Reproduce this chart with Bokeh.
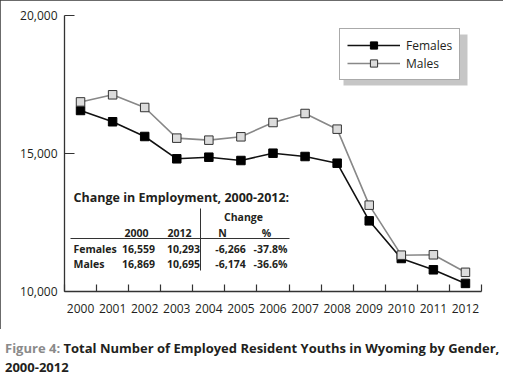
from bokeh.plotting import figure
from bokeh.models import (FixedTicker, NumeralTickFormatter, Range1d, Legend, LegendItem,
                          Div, BoxAnnotation)
from bokeh.layouts import column
from bokeh.embed import file_html
from bokeh.resources import INLINE
from bokeh.core.properties import value

# ---------------- data ----------------
years = [2000, 2001, 2002, 2003, 2004, 2005, 2006, 2007, 2008, 2009, 2010, 2011, 2012]
females = [16559, 16150, 15616, 14808, 14866, 14746, 15011, 14891, 14649, 12560, 11196, 10786, 10293]
males = [16869, 17127, 16667, 15556, 15483, 15605, 16123, 16449, 15882, 13128, 11316, 11330, 10695]
y_ticks = [10000, 15000, 20000]
series_names = ["Females", "Males"]
table_title = "Change in Employment, 2000-2012:"
table_group = "Change"
table_headers = ["2000", "2012", "N", "%"]
caption_prefix = "Figure 4:"
caption_line1 = "Total Number of Employed Resident Youths in Wyoming by Gender,"
caption_line2 = "2000-2012"

FONT = "Open Sans"
TXT = "#231f20"

# ---------------- layout constants (pixels) ----------------
W, H = 503, 329
PAGE = 8                      # page margin
PL, PT = 72, 23               # frame left / top in page pixels
PR, PB = 489, 299             # frame right / bottom in page pixels
ML, MT = PL - PAGE, PT - PAGE
MR, MB = PAGE + W - PR, PAGE + H - PB
FW = PR - PL
FH = PB - PT
X0, X1 = years[0] - 0.5, years[-1] + 0.5
Y0, Y1 = y_ticks[0], y_ticks[-1]


def dx(px):
    return X0 + (px - PL) * (X1 - X0) / FW


def dy(py):
    return Y1 - (py - PT) * (Y1 - Y0) / FH


p = figure(width=W, height=H, x_range=Range1d(X0, X1), y_range=Range1d(Y0, Y1),
           output_backend="svg", toolbar_location=None, title=None,
           min_border_left=ML, min_border_right=MR, min_border_top=MT, min_border_bottom=MB)
p.styles = {"outline": "2px solid #3a3a3a", "outline-offset": "-2px"}
p.outline_line_color = None
p.xgrid.visible = False
p.ygrid.visible = False
p.background_fill_color = "white"
p.border_fill_color = "white"

# x axis: labels at year centres, tick marks at boundaries
bounds = [y - 0.5 for y in years] + [years[-1] + 0.5]
p.xaxis.ticker = FixedTicker(ticks=years, minor_ticks=bounds)
p.xaxis.major_tick_line_color = None
p.xaxis.minor_tick_in = 7
p.xaxis.minor_tick_out = 0
p.xaxis.minor_tick_line_color = "#333333"
p.xaxis.minor_tick_line_width = 1.2
p.xaxis.major_label_standoff = 6

p.yaxis.ticker = FixedTicker(ticks=y_ticks)
p.yaxis.formatter = NumeralTickFormatter(format="0,0")
p.yaxis.major_tick_in = 10
p.yaxis.major_tick_out = 0
p.yaxis.minor_tick_line_color = None
p.yaxis.major_tick_line_color = "#333333"
p.yaxis.major_tick_line_width = 1.2
p.yaxis.major_label_standoff = 7

for ax in (p.xaxis, p.yaxis):
    ax.axis_line_color = "#333333"
    ax.axis_line_width = 1.3
    ax.major_label_text_font = FONT
    ax.major_label_text_font_size = "12px"
    ax.major_label_text_color = TXT

# series
fl = p.line(years, females, line_color="#111111", line_width=1.6)
fm = p.scatter(years, females, marker="square", size=8.5, fill_color="#000000", line_color="#000000")
ml = p.line(years, males, line_color="#888888", line_width=1.6)
mm = p.scatter(years, males, marker="square", size=8.5, fill_color="#dcdcdc", line_color="#333333",
               line_width=1)

# legend shadow
shadow = BoxAnnotation(left=dx(351), right=dx(475), top=dy(42), bottom=dy(93),
                       fill_color="#808080", fill_alpha=0.45, line_color=None, level="underlay")
p.add_layout(shadow)

legend = Legend(items=[LegendItem(label=series_names[0], renderers=[fl, fm]),
                       LegendItem(label=series_names[1], renderers=[ml, mm])],
                location=(347 - PL, PB - 88), padding=7, spacing=0,
                glyph_width=53, glyph_height=18, label_height=18, label_standoff=6,
                label_text_font=FONT, label_text_font_size="12px", label_text_color=TXT,
                border_line_color="#555555", border_line_width=1.5,
                background_fill_color="white", background_fill_alpha=1.0, margin=0)
p.add_layout(legend, "center")

# ---------------- table ----------------
rows = [(series_names[0], females), (series_names[1], males)]
p.text(x=[dx(81)], y=[dy(205)], text=[table_title], text_font=value(FONT),
       text_font_size="12.5px", text_font_style="bold", text_color=TXT,
       text_align="left", text_baseline="middle")
p.text(x=[dx(251)], y=[dy(224)], text=[table_group], text_font=value(FONT),
       text_font_size="10.5px", text_font_style="bold", text_color=TXT,
       text_align="center", text_baseline="middle")
col_px = [144, 187, 230, 274]
p.text(x=[dx(c) for c in col_px], y=[dy(240)] * 4, text=table_headers, text_font=value(FONT),
       text_font_size="10.5px", text_font_style="bold", text_color=TXT,
       text_align="center", text_baseline="middle")
val_px = [146, 191, 238, 278]
row_py = [256, 271]
for (name, vals), py in zip(rows, row_py):
    v0, v1 = vals[0], vals[-1]
    n = v1 - v0
    pct = n / v0 * 100
    cells = [f"{v0:,}", f"{v1:,}", f"{n:,}", f"{pct:.1f}%"]
    p.text(x=[dx(81)], y=[dy(py)], text=[name], text_font=value(FONT),
           text_font_size="10.5px", text_font_style="bold", text_color=TXT,
           text_align="left", text_baseline="middle")
    p.text(x=[dx(c) for c in val_px], y=[dy(py)] * 4, text=cells, text_font=value(FONT),
           text_font_size="10.5px", text_font_style="bold", text_color=TXT,
           text_align="center", text_baseline="middle")
p.segment(x0=[dx(78), dx(208)], y0=[dy(246), dy(216)], x1=[dx(297), dx(208)], y1=[dy(246), dy(278)],
          line_color="#333333", line_width=1)

caption = Div(text=(f'<span style="color:#8a8a8a">{caption_prefix}</span> {caption_line1}<br>'
                    f'{caption_line2}'),
              width=503, height=41,
              styles={"font-family": FONT, "font-size": "13px", "font-weight": "bold",
                      "color": TXT, "line-height": "19px", "padding-top": "5px",
                      "white-space": "nowrap", "box-sizing": "border-box",
                      "overflow": "visible"})

layout = column(p, caption, spacing=0)
open("out.html", "w").write(file_html(layout, INLINE))
